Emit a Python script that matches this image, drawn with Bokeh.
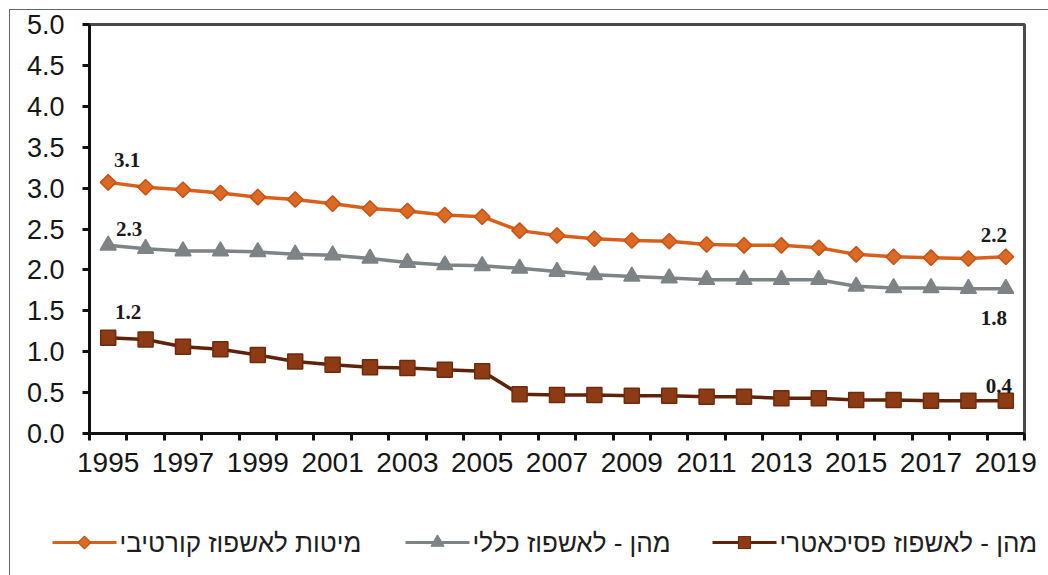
from math import pi

from bokeh.core.properties import value
from bokeh.embed import file_html
from bokeh.layouts import column
from bokeh.models import ColumnDataSource, FixedTicker, NumeralTickFormatter, Range1d
from bokeh.plotting import figure
from bokeh.resources import INLINE

# Beds per 1,000 population, 1995-2019
years = list(range(1995, 2020))
curative_beds = [3.07, 3.01, 2.98, 2.94, 2.89, 2.86, 2.81, 2.75, 2.72, 2.67, 2.65, 2.48, 2.42,
                 2.38, 2.36, 2.35, 2.31, 2.30, 2.30, 2.27, 2.19, 2.16, 2.15, 2.14, 2.16]
general_beds = [2.30, 2.26, 2.23, 2.23, 2.22, 2.19, 2.18, 2.14, 2.09, 2.06, 2.05, 2.02, 1.98,
                1.94, 1.92, 1.90, 1.88, 1.88, 1.88, 1.88, 1.80, 1.78, 1.78, 1.77, 1.77]
psych_beds = [1.17, 1.15, 1.06, 1.03, 0.96, 0.88, 0.84, 0.81, 0.80, 0.78, 0.76, 0.48, 0.47,
              0.47, 0.46, 0.46, 0.45, 0.45, 0.43, 0.43, 0.41, 0.41, 0.40, 0.40, 0.40]

series_names = ["מיטות לאשפוז קורטיבי", "מהן - לאשפוז כללי", "מהן - לאשפוז פסיכאטרי"]
y_ticks = [0.0, 0.5, 1.0, 1.5, 2.0, 2.5, 3.0, 3.5, 4.0, 4.5, 5.0]
x_label_years = list(range(1995, 2020, 2))

# series styles: line colour, marker, marker size, angle, fill, marker outline
styles = [
    ("#d9601b", "square", 11, pi / 4, "#dc6a22", "#c2541a"),
    ("#7e8386", "triangle", 16, 0.0, "#7e8386", "#7e8386"),
    ("#5e240b", "square", 15, 0.0, "#8c3b14", "#6e2c0e"),
]
legend_marker_sizes = [9, 13, 12]

W = 1038
p = figure(width=W, height=510, output_backend="svg", toolbar_location=None,
           x_range=Range1d(years[0] - 0.5, years[-1] + 0.5), y_range=Range1d(0, 5),
           min_border_left=79, min_border_right=24, min_border_top=14, min_border_bottom=87)
p.background_fill_color = "white"
p.border_fill_color = "white"
p.outline_line_color = "#4a4a4a"
p.outline_line_width = 3
p.xgrid.visible = False
p.ygrid.visible = False

for ax in (p.xaxis[0], p.yaxis[0]):
    ax.axis_line_color = "#111111"
    ax.axis_line_width = 3
    ax.major_label_text_font = "Liberation Sans"
    ax.major_label_text_color = "#161616"
p.xaxis.major_label_text_font_size = "28px"
p.yaxis.major_label_text_font_size = "27px"

# x: labels at odd years, tick marks on the year boundaries
p.xaxis.ticker = FixedTicker(ticks=x_label_years,
                             minor_ticks=[y - 0.5 for y in years] + [years[-1] + 0.5])
p.xaxis.major_tick_line_color = None
p.xaxis.minor_tick_line_color = "#111111"
p.xaxis.minor_tick_line_width = 3
p.xaxis.minor_tick_out = 7
p.xaxis.minor_tick_in = 0
p.xaxis.major_label_standoff = 12

p.yaxis.ticker = FixedTicker(ticks=y_ticks, minor_ticks=[])
p.yaxis.formatter = NumeralTickFormatter(format="0.0")
p.yaxis.major_tick_line_color = "#111111"
p.yaxis.major_tick_line_width = 3
p.yaxis.major_tick_out = 7
p.yaxis.major_tick_in = 0
p.yaxis.major_label_standoff = 18

src = ColumnDataSource(dict(year=years, cur=curative_beds, gen=general_beds, psy=psych_beds))
for col, (lc, mk, ms, ang, fc, oc) in zip(("cur", "gen", "psy"), styles):
    p.line("year", col, source=src, line_color=lc, line_width=3.5)
    p.scatter("year", col, source=src, marker=mk, angle=ang, size=ms,
              fill_color=fc, line_color=oc, line_width=1.5)

# value labels at the first and last years
lab_x, lab_y, lab_t, lab_dx, lab_dy = [], [], [], [], []
for vals, d_first, d_last in ((curative_beds, (19, -22), (-12, -22)),
                              (general_beds, (21, -16), (-12, 29)),
                              (psych_beds, (20, -26), (-7, -15))):
    for idx, (dx, dy) in ((0, d_first), (-1, d_last)):
        lab_x.append(years[idx])
        lab_y.append(vals[idx])
        lab_t.append(f"{vals[idx]:.1f}")
        lab_dx.append(dx)
        lab_dy.append(dy)
lab_src = ColumnDataSource(dict(x=lab_x, y=lab_y, t=lab_t, dx=lab_dx, dy=lab_dy))
p.text("x", "y", text="t", source=lab_src, x_offset="dx", y_offset="dy",
       text_font=value("Liberation Serif"), text_font_style="bold", text_font_size="21px",
       text_color="#1a1a1a", text_align="center", text_baseline="middle")

# legend strip: one pixel per data unit, frame not tied to the chart's frame
LW, LH = W, 55
leg = figure(width=LW, height=LH, output_backend="svg", toolbar_location=None,
             x_range=Range1d(0, LW), y_range=Range1d(0, LH),
             x_axis_type=None, y_axis_type=None, min_border=0)
leg.frame_align = False
leg.outline_line_color = None
leg.xgrid.visible = False
leg.ygrid.visible = False
leg.background_fill_color = "white"
leg.border_fill_color = "white"

sym_x0 = [42, 395, 702]
sym_len = 64
leg_y = 33
for x0, name, lms, (lc, mk, ms, ang, fc, oc) in zip(sym_x0, series_names,
                                                      legend_marker_sizes, styles):
    leg.segment(x0=[x0], y0=[leg_y], x1=[x0 + sym_len], y1=[leg_y], line_color=lc, line_width=3)
    leg.scatter(x=[x0 + sym_len / 2], y=[leg_y], marker=mk, angle=ang, size=lms,
                fill_color=fc, line_color=oc, line_width=1.2)
    leg.text(x=[x0 + sym_len + 3], y=[leg_y], text=[name], text_font=value("Liberation Sans"),
             text_font_size="26px", text_color="#1e1e1e", text_align="left",
             text_baseline="middle")

layout = column(p, leg, spacing=0,
                styles={"margin-left": "9px", "margin-top": "9px",
                        "border-left": "1px solid #666666", "border-top": "1px solid #666666"})

open("out.html", "w").write(file_html(layout, INLINE))
